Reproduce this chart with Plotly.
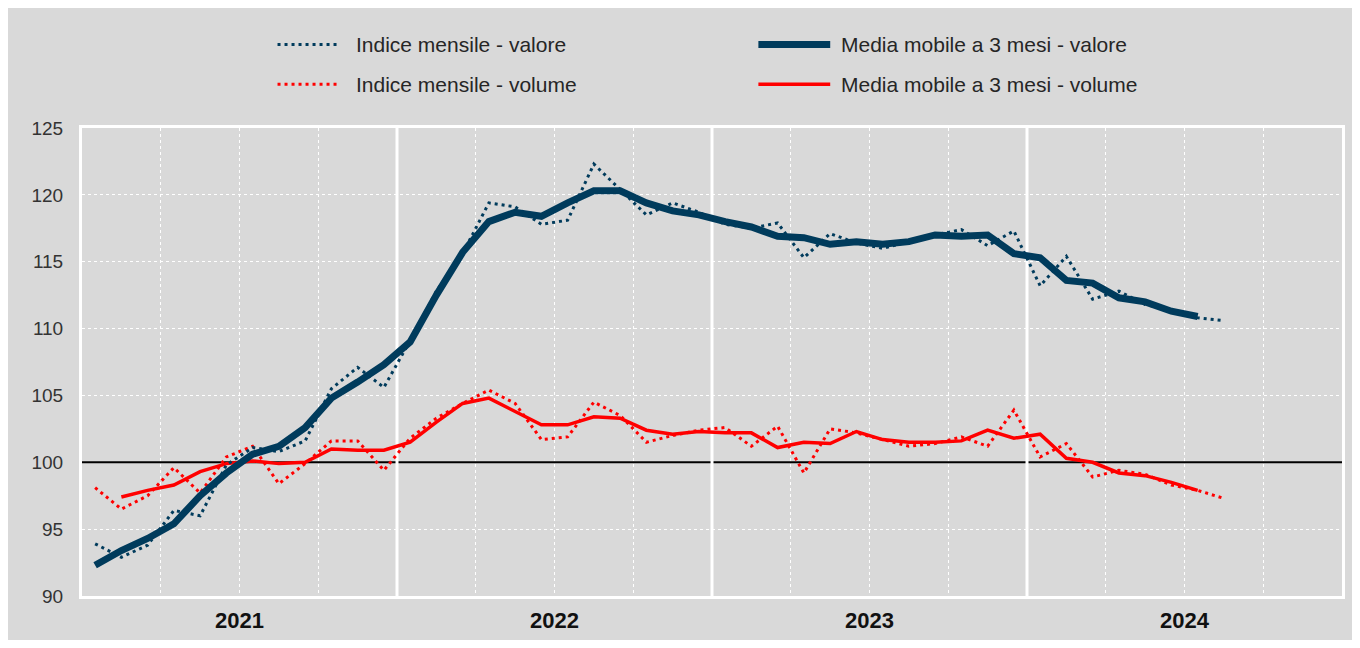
import pandas as pd
import plotly.graph_objects as go

# ---------------- data ----------------
months = pd.date_range("2021-01-01", periods=44, freq="MS").strftime("%Y-%m").tolist()
axis_months = pd.date_range("2021-01-01", "2024-12-01", freq="MS").strftime("%Y-%m").tolist()
year_labels = ["2021", "2022", "2023", "2024"]

valore_mensile = [93.9, 92.9, 93.8, 96.4, 96.0, 99.8, 101.1, 100.8, 101.6, 105.5, 107.1, 105.6,
                  109.1, 112.8, 115.6, 119.4, 119.1, 117.8, 118.1, 122.3, 120.4, 118.5, 119.4, 118.7,
                  117.8, 117.5, 117.9, 115.3, 117.1, 116.4, 116.0, 116.5, 117.0, 117.4, 116.2, 117.3,
                  113.2, 115.4, 112.2, 112.8, 111.8, 111.4, 110.8, 110.6]
valore_media_mobile = [92.3, 93.4, 94.3, 95.4, 97.5, 99.2, 100.6, 101.2, 102.6, 104.8, 106.0, 107.3,
                       109.0, 112.5, 115.7, 118.0, 118.7, 118.4, 119.4, 120.3, 120.3, 119.4, 118.8, 118.5,
                       118.0, 117.6, 116.9, 116.8, 116.3, 116.5, 116.3, 116.5, 117.0, 116.9, 117.0, 115.6,
                       115.3, 113.6, 113.4, 112.3, 112.0, 111.3, 110.9, None]
volume_mensile = [98.1, 96.5, 97.5, 99.6, 97.7, 100.4, 101.2, 98.4, 99.9, 101.6, 101.6, 99.4,
                  101.8, 103.3, 104.4, 105.4, 104.4, 101.7, 101.9, 104.5, 103.5, 101.5, 102.0, 102.4,
                  102.6, 101.2, 102.7, 99.2, 102.5, 102.2, 101.7, 101.2, 101.4, 101.9, 101.2, 103.9,
                  100.4, 101.4, 98.9, 99.4, 99.1, 98.3, 97.9, 97.3]
volume_media_mobile = [None, 97.4, 97.9, 98.3, 99.3, 99.9, 100.1, 99.9, 100.0, 101.0, 100.9, 100.9,
                       101.5, 103.0, 104.4, 104.8, 103.8, 102.8, 102.8, 103.4, 103.3, 102.4, 102.1, 102.3,
                       102.2, 102.2, 101.1, 101.5, 101.4, 102.3, 101.7, 101.5, 101.5, 101.6, 102.4, 101.8,
                       102.1, 100.3, 100.0, 99.2, 99.0, 98.5, 97.9, None]

# ---------------- styling ----------------
W, H = 1344, 632
OFF = 8  # page margin of the browser
ML, MR, MT, MB = 74, 7, 120, 41
NAVY = "#003B5C"
RED = "#FF0000"
BG = "#D9D9D9"
FONT = "Liberation Sans, Arial, sans-serif"

x = [axis_months.index(m) for m in months]
n_axis = len(axis_months)

fig = go.Figure()
fig.add_trace(go.Scatter(x=x, y=volume_mensile, mode="lines", name="Indice mensile - volume",
                         line=dict(color=RED, width=3, dash="3px,4px")))
fig.add_trace(go.Scatter(x=x, y=volume_media_mobile, mode="lines", name="Media mobile a 3 mesi - volume",
                         line=dict(color=RED, width=3.5)))
fig.add_trace(go.Scatter(x=x, y=valore_mensile, mode="lines", name="Indice mensile - valore",
                         line=dict(color=NAVY, width=3, dash="3px,4px")))
fig.add_trace(go.Scatter(x=x, y=valore_media_mobile, mode="lines", name="Media mobile a 3 mesi - valore",
                         line=dict(color=NAVY, width=7)))

# year positions / separators from the month list
year_first = [axis_months.index(f"{y}-01") for y in year_labels]
year_centers = [i + 5.5 for i in year_first]
year_seps = [i - 0.5 for i in year_first[1:]]
quarter_lines = [i - 0.5 for i in range(3, n_axis, 3) if (i % 12) != 0]
y_ticks = [90, 95, 100, 105, 110, 115, 120, 125]
y_grid = [v for v in y_ticks if v not in (90, 100, 125)]

shapes = []
shapes.append(dict(type="line", xref="paper", yref="y", x0=0, x1=1, y0=100, y1=100,
                   line=dict(color="black", width=2), layer="below"))
for xs in year_seps:
    shapes.append(dict(type="line", xref="x", yref="paper", x0=xs, x1=xs, y0=0, y1=1,
                       line=dict(color="white", width=3), layer="below"))

# manual legend (pixel layout of the screenshot converted to paper coords)
pw, ph = W - ML - MR, H - MT - MB
def px_x(p):
    return (p - OFF - ML) / pw
def px_y(p):
    return (H - MB - (p - OFF)) / ph

legend_items = [
    ("Indice mensile - valore", NAVY, 3, "3px,4px", 278, 340, 357, 44),
    ("Media mobile a 3 mesi - valore", NAVY, 7, "solid", 760, 832, 843, 44),
    ("Indice mensile - volume", RED, 3, "3px,4px", 278, 340, 357, 84),
    ("Media mobile a 3 mesi - volume", RED, 3.5, "solid", 760, 832, 843, 84),
]
annotations = []
for label, col, wd, dash, xa, xb, xt, yy in legend_items:
    shapes.append(dict(type="line", xref="paper", yref="paper", x0=px_x(xa), x1=px_x(xb),
                       y0=px_y(yy), y1=px_y(yy), line=dict(color=col, width=wd, dash=dash), layer="above"))
    annotations.append(dict(xref="paper", yref="paper", x=px_x(xt), y=px_y(yy), text=label,
                            showarrow=False, xanchor="left", yanchor="middle", xshift=-2,
                            font=dict(family=FONT, size=21, color="#262626")))

fig.update_layout(
    width=W, height=H,
    margin=dict(l=ML, r=MR, t=MT, b=MB),
    paper_bgcolor=BG, plot_bgcolor=BG,
    showlegend=False,
    shapes=shapes, annotations=annotations,
    font=dict(family=FONT, color="#333333"),
)
fig.update_xaxes(
    range=[-0.5, n_axis - 0.5],
    tickmode="array", tickvals=year_centers, ticktext=[f"<b>{y}</b>" for y in year_labels],
    tickfont=dict(family=FONT, size=22, color="#111111"),
    ticks="outside", ticklen=3, tickcolor="rgba(0,0,0,0)",
    showgrid=False, zeroline=False,
    showline=True, mirror=True, linecolor="white", linewidth=3,
    minor=dict(tickmode="array", tickvals=quarter_lines, showgrid=True, gridcolor="white",
               griddash="dot", gridwidth=1, ticks=""),
)
fig.update_yaxes(
    range=[90, 125], tickmode="array", tickvals=y_ticks,
    tickfont=dict(family=FONT, size=19, color="#333333"),
    ticks="outside", ticklen=12, tickcolor="rgba(0,0,0,0)",
    showgrid=False, zeroline=False,
    showline=True, mirror=True, linecolor="white", linewidth=3,
    minor=dict(tickmode="array", tickvals=y_grid, showgrid=True, gridcolor="white",
               griddash="dot", gridwidth=1, ticks=""),
)

fig.write_html("out.html")
